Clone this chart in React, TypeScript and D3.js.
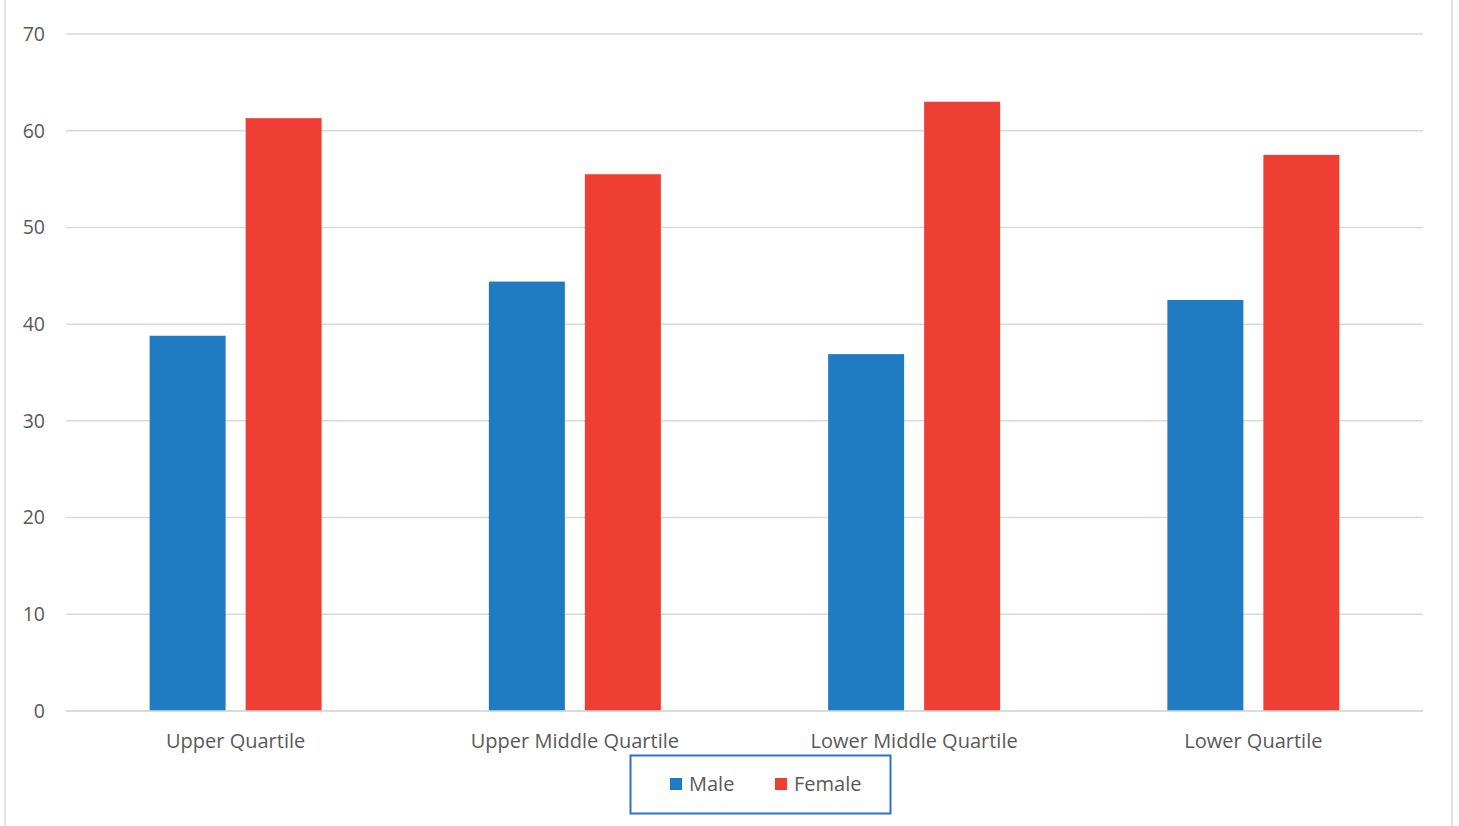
import { useEffect, useRef } from "react";
import * as d3 from "d3";

const categories = ["Upper Quartile", "Upper Middle Quartile", "Lower Middle Quartile", "Lower Quartile"];
const seriesNames = ["Male", "Female"];
const maleValues = [38.8, 44.4, 36.9, 42.5];
const femaleValues = [61.3, 55.5, 63.0, 57.5];
const yTicks = [0, 10, 20, 30, 40, 50, 60, 70];
const colors = ["#1f7bc2", "#ef3e33"];

const W = 1459;
const H = 826;
const FONT = "'Open Sans', 'DejaVu Sans', sans-serif";

export default function App() {
  const svgRef = useRef(null);

  useEffect(() => {
    const svg = d3.select(svgRef.current);
    svg.selectAll("*").remove();

    // chart frame edges
    svg.append("line").attr("x1", 5).attr("x2", 5).attr("y1", 0).attr("y2", H)
      .attr("stroke", "#d9d9d9").attr("stroke-width", 1.5);
    svg.append("line").attr("x1", 1452).attr("x2", 1452).attr("y1", 0).attr("y2", H)
      .attr("stroke", "#d9d9d9").attr("stroke-width", 1.5);

    const y = d3.scaleLinear().domain([0, 70]).range([711, 34]);
    const x0 = d3.scaleBand().domain(categories).range([66, 1423]);
    const x1 = d3.scaleBand().domain(seriesNames).range([0, x0.bandwidth()])
      .paddingInner(0.2083).paddingOuter(0.871);

    // gridlines
    svg.append("g").selectAll("line").data(yTicks).join("line")
      .attr("x1", 66).attr("x2", 1423)
      .attr("y1", (d) => y(d)).attr("y2", (d) => y(d))
      .attr("stroke", "#d9d9d9").attr("stroke-width", 1.5);

    // y tick labels
    svg.append("g").selectAll("text").data(yTicks).join("text")
      .attr("x", 45).attr("y", (d) => y(d))
      .attr("dy", "0.35em")
      .attr("text-anchor", "end")
      .attr("font-family", FONT).attr("font-size", 19.5).attr("fill", "#595959")
      .text((d) => d);

    const rows = categories.map((c, i) => ({ cat: c, vals: [maleValues[i], femaleValues[i]] }));

    const groups = svg.append("g").selectAll("g").data(rows).join("g")
      .attr("transform", (d) => `translate(${x0(d.cat)},0)`);

    groups.selectAll("rect")
      .data((d) => d.vals.map((v, k) => ({ name: seriesNames[k], v, k })))
      .join("rect")
      .attr("x", (d) => x1(d.name))
      .attr("width", x1.bandwidth())
      .attr("y", (d) => y(d.v))
      .attr("height", (d) => y(0) - y(d.v))
      .attr("fill", (d) => colors[d.k]);

    // baseline
    svg.append("line").attr("x1", 66).attr("x2", 1423).attr("y1", y(0)).attr("y2", y(0))
      .attr("stroke", "#d9d9d9").attr("stroke-width", 1.5);

    // category labels
    svg.append("g").selectAll("text").data(categories).join("text")
      .attr("x", (d) => x0(d) + x0.bandwidth() / 2)
      .attr("y", 748)
      .attr("text-anchor", "middle")
      .attr("font-family", FONT).attr("font-size", 20).attr("fill", "#595959")
      .text((d) => d);

    // legend
    const lg = svg.append("g");
    lg.append("rect").attr("x", 630.5).attr("y", 755.5).attr("width", 260).attr("height", 58)
      .attr("fill", "none").attr("stroke", "#2e73be").attr("stroke-width", 2);
    const legendX = [670, 775];
    seriesNames.forEach((name, k) => {
      lg.append("rect").attr("x", legendX[k]).attr("y", 778).attr("width", 12).attr("height", 12)
        .attr("fill", colors[k]);
      lg.append("text").attr("x", legendX[k] + 19).attr("y", 791)
        .attr("font-family", FONT).attr("font-size", 20).attr("fill", "#595959")
        .text(name);
    });
  }, []);

  return (
    <div style={{ position: "absolute", left: 0, top: 0 }}>
      <svg ref={svgRef} width={W} height={H} style={{ display: "block", background: "#fff" }} />
    </div>
  );
}
